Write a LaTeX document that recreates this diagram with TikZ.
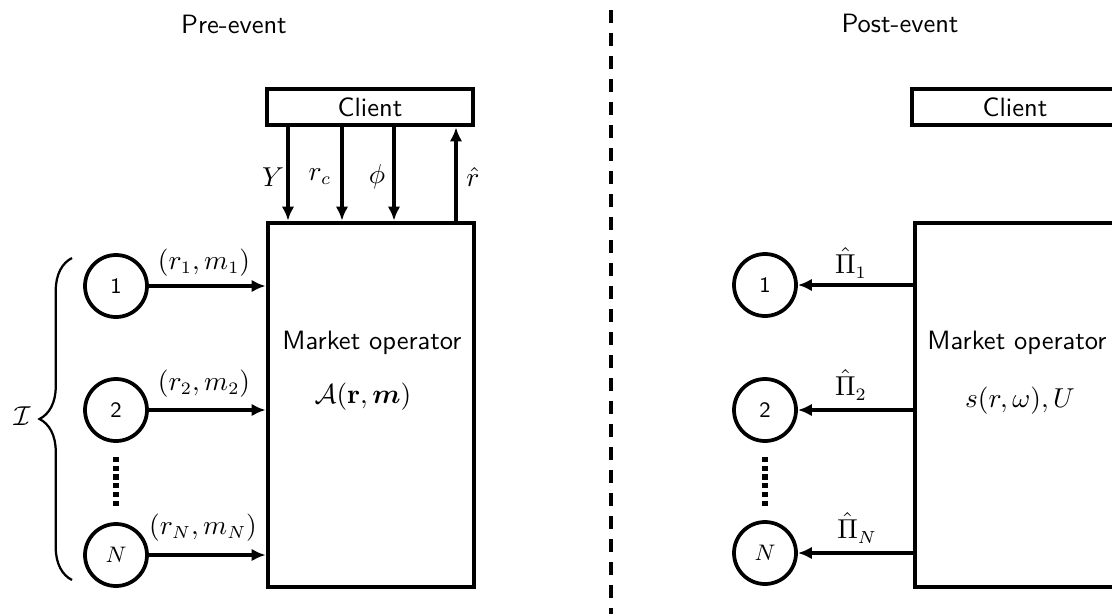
\documentclass[tikz,border=0pt]{standalone}
\usepackage{amsmath}
\usetikzlibrary{arrows.meta,decorations.pathreplacing}
\renewcommand{\familydefault}{\sfdefault}
\begin{document}
\begin{tikzpicture}[x=0.4pt,y=-0.4pt,
  every node/.style={font=\fontsize{10.6}{12.7}\selectfont, inner sep=0pt},
  box/.style={draw, line width=1.9pt, minimum width=82.4pt},
  agent/.style={draw, circle, line width=1.5pt, minimum size=24.8pt, font=\fontsize{8.8}{10}\selectfont},
  arr/.style={line width=1.4pt, -{Latex[length=5.6pt,width=5pt]}},
  dots/.style={line width=2.1pt, dash pattern=on 2.1pt off 1.4pt, shorten <=5.6pt, shorten >=5.6pt},
  divider/.style={line width=1.7pt, dash pattern=on 5.2pt off 4pt}]
\useasboundingbox (0,0) rectangle (1112,613);
\clip (0,0) rectangle (1112,613);

% titles
\node (tpre) at (234,24) {Pre-event};
\node (tpost) at (900,23) {Post-event};

% divider
\coordinate (dtop) at (611,10);
\coordinate (dbot) at (611,620);
\draw[divider] (dtop) -- (dbot);

% ---------------- Pre-event ----------------
\node[box, minimum height=14.4pt] (clL) at (370,107) {Client};
\node[box, minimum height=145.6pt] (moL) at (371,405) {};
\node (moLt) at (372,343) {Market operator};
\node (moLf) at (363,397) {$\mathcal{A}(\mathbf{r},\boldsymbol{m})$};

\draw[arr] (clL.south -| 288,0) -- (moL.north -| 288,0);
\draw[arr] (clL.south -| 342,0) -- (moL.north -| 342,0);
\draw[arr] (clL.south -| 394,0) -- (moL.north -| 394,0);
\draw[arr] (moL.north -| 456,0) -- (clL.south -| 456,0);
\node (lY) at (273,177) {$Y$};
\node (lrc) at (320,177) {$r_c$};
\node (lphi) at (377,177) {$\phi$};
\node (lrh) at (473,177) {$\hat{r}$};

\node[agent] (a1) at (116,286) {1};
\node[agent] (a2) at (116,410) {2};
\node[agent] (aN) at (116,555) {$N$};
\draw[dots] (a2.south) -- (aN.north);

\draw[arr] (a1) -- (a1 -| moL.west);
\draw[arr] (a2) -- (a2 -| moL.west);
\draw[arr] (aN) -- (aN -| moL.west);
\node (l1) at (204,263) {$(r_1,m_1)$};
\node (l2) at (204,384) {$(r_2,m_2)$};
\node (lN) at (203,528) {$(r_N,m_N)$};

\coordinate (bb) at (72,580);
\coordinate (bt) at (72,258);
\draw[line width=0.9pt, decorate, decoration={brace, amplitude=13pt}] (bb) -- (bt);
\node (calI) at (22,416) {$\mathcal{I}$};

% ---------------- Post-event ----------------
\node[box, minimum height=14.4pt] (clR) at (1015,107) {Client};
\node[box, minimum height=145.6pt] (moR) at (1018,405) {};
\node (moRt) at (1017,343) {Market operator};
\node (moRf) at (1020,401) {$s(r,\omega),U$};

\node[agent] (b1) at (765,285) {1};
\node[agent] (b2) at (765,410) {2};
\node[agent] (bN) at (765,553) {$N$};
\draw[dots] (b2.south) -- (bN.north);

\draw[arr] (b1 -| moR.west) -- (b1);
\draw[arr] (b2 -| moR.west) -- (b2);
\draw[arr] (bN -| moR.west) -- (bN);
\node (p1) at (851,263) {$\hat{\Pi}_1$};
\node (p2) at (851,385) {$\hat{\Pi}_2$};
\node (pN) at (857,528) {$\hat{\Pi}_N$};
\end{tikzpicture}
\end{document}
